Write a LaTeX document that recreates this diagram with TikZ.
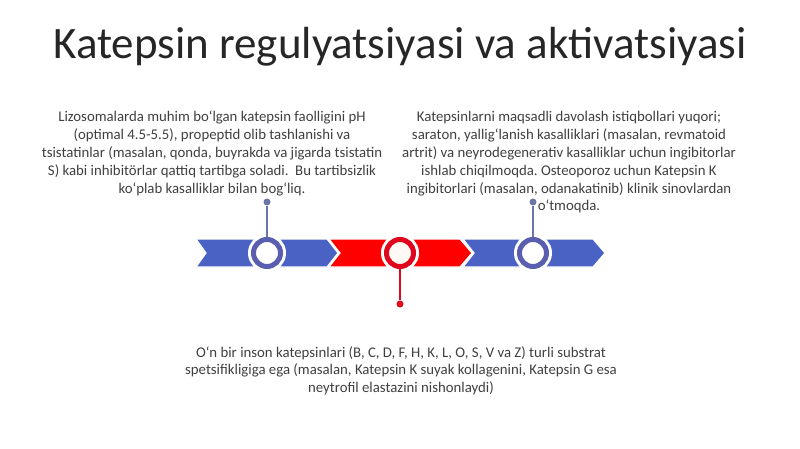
\documentclass[tikz,border=0pt]{standalone}
\usepackage{fontspec}
\setmainfont{Carlito}
\frenchspacing
\definecolor{bandblue}{HTML}{4A62C4}
\definecolor{ringblue}{HTML}{5A5EAE}
\definecolor{bandred}{HTML}{FF0000}
\definecolor{ringred}{HTML}{E0061E}
\definecolor{connblue}{HTML}{6A76A6}
\definecolor{txt}{HTML}{404040}
\definecolor{ttl}{HTML}{262626}
\begin{document}
\begin{tikzpicture}[x=1pt,y=-1pt,
  body/.style={align=center,text=txt,font=\fontsize{14.8}{17.9}\selectfont,inner sep=0pt},
  seg/.style={draw=white,line width=1.2pt},
  ring/.style={circle,minimum size=27pt,inner sep=0pt,line width=5pt,draw=#1,fill=white,preaction={draw=white,line width=11pt}},
  dot/.style={circle,fill=#1,minimum size=7pt,inner sep=0pt},
  conn/.style={draw=#1,line width=1.6pt}]
\fill[white] (0,0) rectangle (800,449);
\useasboundingbox (0,0) rectangle (800,449);
\node[text=ttl,font=\fontsize{45}{52}\selectfont,inner sep=0pt] (title) at (400,47) {Katepsin regulyatsiyasi va aktivatsiyasi};
\node[body,anchor=north] (t1) at (212,111) {Lizosomalarda muhim bo‘lgan katepsin faolligini pH\\(optimal 4.5-5.5), propeptid olib tashlanishi va\\tsistatinlar (masalan, qonda, buyrakda va jigarda tsistatin\\S) kabi inhibitörlar qattiq tartibga soladi.\ \ Bu tartibsizlik\\ko‘plab kasalliklar bilan bog‘liq.};
\node[body,anchor=north] (t3) at (569,111) {Katepsinlarni maqsadli davolash istiqbollari yuqori;\\saraton, yallig‘lanish kasalliklari (masalan, revmatoid\\artrit) va neyrodegenerativ kasalliklar uchun ingibitorlar\\ishlab chiqilmoqda. Osteoporoz uchun Katepsin K\\ingibitorlari (masalan, odanakatinib) klinik sinovlardan\\o‘tmoqda.};
\node[body,anchor=north] (t2) at (401,346) {O‘n bir inson katepsinlari (B, C, D, F, H, K, L, O, S, V va Z) turli substrat\\spetsifikligiga ega (masalan, Katepsin K suyak kollagenini, Katepsin G esa\\neytrofil elastazini nishonlaydi)};
% band
\filldraw[seg,fill=bandblue] (196,239) -- (327,239) -- (338,253) -- (327,267) -- (196,267) -- (206,253) -- cycle;
\filldraw[seg,fill=bandred] (329,239) -- (460,239) -- (472,253) -- (460,267) -- (329,267) -- (340,253) -- cycle;
\filldraw[seg,fill=bandblue] (463,239) -- (593,239) -- (605,253) -- (593,267) -- (463,267) -- (474,253) -- cycle;
% rings
\node[ring=ringblue] (c1) at (267,253) {};
\node[ring=ringred,fill={rgb,255:red,255;green,250;blue,244}] (c2) at (400,253) {};
\node[ring=ringblue] (c3) at (533,253) {};
\node[dot=connblue] (d1) at (267,202) {};
\node[dot=connblue] (d3) at (533,202) {};
\node[dot=ringred] (d2) at (400,304) {};
\draw[conn=connblue] (c1) -- (d1);
\draw[conn=connblue] (c3) -- (d3);
\draw[conn=ringred] (c2) -- (d2);
\end{tikzpicture}
\end{document}
